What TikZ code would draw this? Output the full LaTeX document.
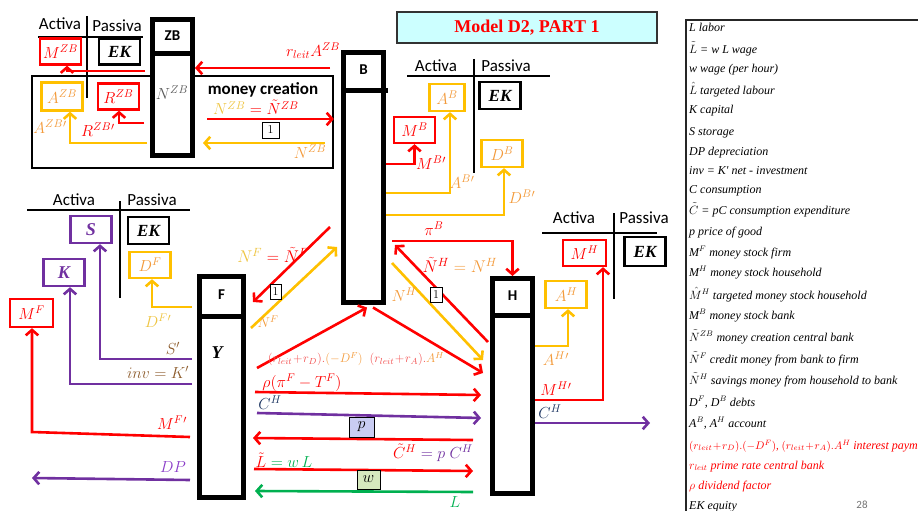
\RequirePackage{fix-cm}
\documentclass[tikz,border=0pt]{standalone}
\usepackage{fontspec}
\usepackage{amsmath}
\usetikzlibrary{arrows.meta,calc}
\newfontfamily\calib{Carlito}
\newfontfamily\tnr{Liberation Serif}
\definecolor{cred}{HTML}{FF0000}
\definecolor{cpink}{HTML}{F25050}
\definecolor{cgold}{HTML}{FFC000}
\definecolor{corange}{HTML}{F39A3A}
\definecolor{cyell}{HTML}{EEC440}
\definecolor{cpurple}{HTML}{7030A0}
\definecolor{cdp}{HTML}{8A3CC8}
\definecolor{cblue}{HTML}{203864}
\definecolor{cbrown}{HTML}{8C5A2A}
\definecolor{cgreen}{HTML}{00B050}
\definecolor{cgray}{HTML}{595959}
\definecolor{ccyan}{HTML}{CCFFFF}
\definecolor{cpbox}{HTML}{C9CCF2}
\definecolor{cwbox}{HTML}{D6E9BE}
\tikzset{
  bar/.style={draw, line width=5pt, inner sep=0pt, fill=white},
  bb/.style={draw, line width=2.3pt, minimum width=41pt, minimum height=26pt, inner sep=0pt, fill=white, font=\fontsize{16}{16}\selectfont},
  arr/.style={line width=2.6pt, -{Straight Barb[length=5.5pt,width=12.5pt]}},
  tl/.style={line width=1.2pt},
  head/.style={font=\calib\bfseries\fontsize{15}{15}\selectfont},
  act/.style={font=\calib\fontsize{17}{17}\selectfont, inner sep=0pt},
  lab/.style={font=\fontsize{16}{16}\selectfont, inner sep=0pt},
  ek/.style={font=\tnr\bfseries\itshape\fontsize{17}{17}\selectfont},
  sk/.style={font=\tnr\bfseries\itshape\fontsize{18}{18}\selectfont},
  one/.style={draw, line width=0.9pt, fill=white, inner sep=0pt, minimum width=12pt, minimum height=15pt, font=\fontsize{12}{12}\selectfont},
  leg/.style={anchor=west, inner sep=0pt, text height=8.5pt, text depth=2.5pt, font=\tnr\itshape\fontsize{12}{12}\selectfont},
}
\begin{document}
\begin{tikzpicture}[x=1pt,y=-1pt]
\useasboundingbox (0,0) rectangle (918,511);
% ---------- title ----------
\node[draw=black!80, line width=1.3pt, fill=ccyan, minimum width=260pt, minimum height=31pt,
      font=\tnr\bfseries\fontsize{18}{18}\selectfont, text=cred] (title) at (527,27.5) {Model D2, PART 1};
% ---------- legend ----------
\begin{scope}
\clip (0,0) rectangle (918,511);
\draw[line width=1.3pt, black!85] (918,20) -- (686,20) -- (686,511);
\node[leg] (g1) at (689,29) {L labor};
\node[leg] (g2) at (689,50) {$\tilde{L}$ = w L wage};
\node[leg] (g3) at (689,69) {w wage (per hour)};
\node[leg] (g4) at (689,91) {$\hat{L}$ targeted labour};
\node[leg] (g5) at (689,110) {K capital};
\node[leg] (g6) at (689,132) {S storage};
\node[leg] (g7) at (689,152) {DP depreciation};
\node[leg] (g8) at (689,171) {inv = K' net - investment};
\node[leg] (g9) at (689,190) {C consumption};
\node[leg] (g10) at (689,211) {$\tilde{C}$ = pC consumption expenditure};
\node[leg] (g11) at (689,232) {p price of good};
\node[leg] (g12) at (689,253) {M$^F$ money stock firm};
\node[leg] (g13) at (689,273) {M$^H$ money stock household};
\node[leg] (g14) at (689,296) {$\hat{M}^H$ targeted money stock household};
\node[leg] (g15) at (689,316) {M$^B$ money stock bank};
\node[leg] (g16) at (689,338) {$\tilde{N}^{ZB}$ money creation central bank};
\node[leg] (g17) at (689,360) {$\tilde{N}^F$ credit money from bank to firm};
\node[leg] (g18) at (689,381) {$\tilde{N}^H$ savings money from household to bank};
\node[leg] (g19) at (689,403) {D$^F$, D$^B$ debts};
\node[leg] (g20) at (689,424) {A$^B$, A$^H$ account};
\node[leg, text=cred] (g21) at (689,446) {\fontsize{11}{11}\selectfont$(r_{leit}\!+\!r_D).(-D^F)$, $(r_{leit}\!+\!r_A).A^H$ \fontsize{12}{12}\selectfont interest payment};
\node[leg, text=cred] (g22) at (689,466) {$r_{leit}$ prime rate central bank};
\node[leg, text=cred] (g23) at (689,486) {$\rho$ dividend factor};
\node[leg] (g24) at (689,506) {EK equity};
\node[font=\calib\fontsize{11}{11}\selectfont, text=black!55] (pg) at (862,505) {28};
\end{scope}
% ---------- money creation box ----------
\node[draw, line width=1.8pt, minimum width=301pt, minimum height=92pt, inner sep=0pt] (mc) at (182.5,122) {};
% ---------- bars ----------
\node[bar, minimum width=40pt, minimum height=135.5pt] (ZB) at (172.5,87.75) {};
\draw[line width=5pt] (ZB.west |- 0,53.5) -- (ZB.east |- 0,53.5);
\node[head] (ZBt) at (172.5,36) {ZB};
\node[bar, minimum width=40pt, minimum height=249.5pt] (B) at (363.5,177.25) {};
\draw[line width=5pt] (B.west |- 0,90.5) -- ([xshift=2pt]B.east |- 0,90.5);
\node[head] (Bt) at (363.5,70) {B};
\node[bar, minimum width=44pt, minimum height=221pt] (F) at (221.5,387) {};
\draw[line width=5pt] (F.west |- 0,316.5) -- (F.east |- 0,316.5);
\node[head] (Ft) at (221.5,295) {F};
\node[bar, minimum width=40pt, minimum height=215pt] (H) at (512.5,386) {};
\draw[line width=5pt] (H.west |- 0,315) -- (H.east |- 0,315);
\node[head] (Ht) at (512.5,296) {H};
% ---------- ZB balance sheet ----------
\draw[tl] (38,37) -- (143,37);
\draw[tl] (87,16) -- (87,98);
\node[act] (aZB) at (60,24) {Activa};
\node[act] (pZB) at (117,26) {Passiva};
\node[bb, draw=cred, text=cred] (MZB) at (60.5,51.5) {$M^{ZB}$};
\node[bb, ek] (EKZB) at (119.5,51.5) {EK};
\node[bb, draw=cgold, text=corange, minimum height=28pt] (AZB) at (62,96.5) {$A^{ZB}$};
\node[bb, draw=cred, text=cred] (RZB) at (118.5,96.5) {$R^{ZB}$};
\coordinate (zs1) at (145,71);
\coordinate (zs2) at (144,123);
\coordinate (zs3) at (147,143);
\draw[arr, cred] (zs1) -| (MZB.south -| 67,0);
\draw[arr, cred] (zs2) -| (RZB.south -| 119,0);
\draw[arr, cgold] (zs3) -| (AZB.south -| 70,0);
\node[lab, text=corange] (lAZB) at (50,127) {$A^{ZB}{}'$};
\node[lab, text=cred] (lRZB) at (98,130) {$R^{ZB}{}'$};
\node[lab, text=cgray] (lNZB) at (172,93) {$N^{ZB}$};
\node[font=\calib\bfseries\fontsize{17}{17}\selectfont, inner sep=0pt] (mctxt) at (263,89.5) {money creation};
\node[lab, text=cred] (eqZB) at (256,107.5) {\textcolor{cyell}{$N^{ZB}$}$\;=\tilde{N}^{ZB}$};
\coordinate (mcs) at (207,119);
\draw[arr, cred] (mcs) -- (mc.east |- 0,119);
\node[one, minimum width=17pt, minimum height=16pt] (one1) at (270.5,130) {1};
\coordinate (mcr) at (325,143);
\coordinate (mcl) at (203,143);
\draw[arr, cgold] (mcr) -- (mcl);
\node[lab, text=corange] (lNZB2) at (310,152) {$N^{ZB}$};
\coordinate (rls) at (330,68);
\draw[arr, cred] (rls) -- (ZB.east |- 0,68);
\node[lab, text=cred] (lrl) at (313,51) {$r_{leit}A^{ZB}$};
% ---------- B balance sheet ----------
\draw[tl] (407,76) -- (550,76);
\draw[tl] (474,59) -- (474,173);
\node[act] (aB) at (436,66) {Activa};
\node[act] (pB) at (506,66) {Passiva};
\node[bb, draw=cgold, text=corange, minimum width=35pt, minimum height=27pt] (AB) at (447,97.5) {$A^B$};
\node[bb, ek, minimum height=27pt] (EKB) at (500,95.5) {EK};
\node[bb, draw=cred, text=cred] (MB) at (414.5,130) {$M^B$};
\node[bb, draw=cgold, text=corange, minimum height=27pt] (DB) at (502,153.5) {$D^B$};
\draw[arr, cred] (B.east |- 0,164) -| (MB.south);
\draw[arr, cgold] (B.east |- 0,193) -| (AB.south -| 450,0);
\draw[arr, cgold] (B.east |- 0,215) -| (DB.south -| 504,0);
\node[lab, text=cred] (lMB) at (431,163) {$M^{B}{}'$};
\node[lab, text=corange] (lAB) at (462,182) {$A^{B}{}'$};
\node[lab, text=corange] (lDB) at (522,197) {$D^{B}{}'$};
\coordinate (pis) at (392,241);
\draw[arr, cred] (pis) -| (H.north);
\node[lab, text=cred] (lpi) at (434,229) {$\pi^B$};
% ---------- F balance sheet ----------
\draw[tl] (27,210) -- (190,210);
\draw[tl] (120,201) -- (120,298);
\node[act] (aF) at (74,200) {Activa};
\node[act] (pF) at (152,200) {Passiva};
\node[bb, draw=cpurple, text=cpurple, sk, minimum height=27pt] (S) at (91,229.5) {S};
\node[bb, ek, minimum height=27pt] (EKF) at (148.5,230.5) {EK};
\node[bb, draw=cpurple, text=cpurple, sk, minimum height=27pt] (K) at (64,272.5) {K};
\node[bb, draw=cgold, text=corange] (DF) at (150,265) {$D^F$};
\node[bb, draw=cred, text=cred, minimum width=43pt, minimum height=28pt] (MF) at (31.5,313) {$M^F$};
\coordinate (fd) at (192,307);
\coordinate (fs) at (192,359);
\coordinate (fk) at (192,384);
\coordinate (fm) at (190,437);
\coordinate (fmc) at (32,432);
\coordinate (fdp) at (190,480);
\coordinate (fdpe) at (32,478);
\draw[arr, cgold] (fd) -| (DF.south -| 152,0);
\draw[arr, cpurple] (fs) -| (S.south -| 100,0);
\draw[arr, cpurple] (fk) -| (K.south -| 70,0);
\draw[arr, cred] (fm) -- (fmc) -- (MF.south -| 32,0);
\draw[arr, cpurple] (fdp) -- (fdpe);
\node[lab, text=cyell] (lDF) at (158,321) {$D^F{}'$};
\node[lab, text=cbrown] (lS) at (173,348) {$S'$};
\node[lab, text=cbrown] (lK) at (158,372) {$inv = K'$};
\node[lab, text=cred] (lMF) at (172,423) {$M^F{}'$};
\node[lab, text=cdp] (lDP) at (173,467) {$DP$};
\node[sk, inner sep=0pt] (Y) at (217,353) {Y};
% ---------- H balance sheet ----------
\draw[tl] (542,233) -- (657,233);
\draw[tl] (614,213) -- (614,299);
\node[act] (aH) at (574,218) {Activa};
\node[act] (pH) at (644,218) {Passiva};
\node[bb, draw=cred, text=cred, minimum width=43pt] (MH) at (584.5,253) {$M^H$};
\node[bb, ek, minimum height=29pt] (EKH) at (645,251.5) {EK};
\node[bb, draw=cgold, text=corange, minimum height=27pt] (AH) at (566,294.5) {$A^H$};
\draw[arr, cgold] (H.east |- 0,346) -| (AH.south -| 568,0);
\draw[arr, cred] (H.east |- 0,400) -| (MH.south -| 603,0);
\coordinate (che) at (650,423);
\draw[arr, cpurple] (H.east |- 0,423) -- (che);
\node[lab, text=corange] (lAH) at (556,359) {$A^H{}'$};
\node[lab, text=cred] (lMH) at (556,389) {$M^H{}'$};
\node[lab, text=cblue] (lCH2) at (550,412) {$C^H$};
% ---------- F / B / H diagonals ----------
\coordinate (d1s) at (330,227);
\coordinate (d1e) at (253,302);
\coordinate (d2s) at (251,328);
\coordinate (d2e) at (337,247);
\coordinate (d3s) at (257,368);
\coordinate (d4e) at (483,373);
\coordinate (d5s) at (392,263);
\coordinate (d5e) at (483,360);
\coordinate (d6s) at (488,342);
\coordinate (d6e) at (395,245);
\draw[arr, cred] (d1s) -- (d1e);
\draw[arr, cgold] (d2s) -- (d2e);
\draw[arr, cred] (d3s) -- ([yshift=-3pt]B.south -| 367,0);
\draw[arr, cred] ([yshift=-3pt]B.south -| 373,0) -- (d4e);
\draw[arr, cgold] (d5s) -- (d5e);
\draw[arr, cred] (d6s) -- (d6e);
\node[lab, text=cred, font=\fontsize{17}{17}\selectfont] (eqF) at (273,255) {\textcolor{cyell}{$N^F$}$\;=\tilde{N}^F$};
\node[one, minimum width=11pt] (one2) at (275.5,291.5) {1};
\node[lab, text=corange, font=\fontsize{14}{14}\selectfont] (lNF) at (268,322) {$N^F$};
\node[lab, text=corange] (lNH) at (404,295) {$N^H$};
\node[lab, text=corange, font=\fontsize{17}{17}\selectfont] (eqH) at (460,265) {\textcolor{cred}{$\tilde{N}^H$}$\;=N^H$};
\node[one] (one3) at (436,295) {1};
% ---------- flows between F and H ----------
\coordinate (h1s) at (255,392);
\coordinate (h1e) at (481,395);
\coordinate (h2s) at (257,413);
\coordinate (h2e) at (481,418);
\coordinate (h3s) at (473,440);
\coordinate (h3e) at (253,438);
\coordinate (h4s) at (254,469);
\coordinate (h4e) at (473,471);
\coordinate (h5s) at (473,492);
\coordinate (h5e) at (255,491);
\draw[arr, cred] (h1s) -- (h1e);
\draw[arr, cpurple] (h2s) -- (h2e);
\draw[arr, cred] (h3s) -- (h3e);
\draw[arr, cred] (h4s) -- (h4e);
\draw[arr, cgreen] (h5s) -- (h5e);
\node[draw, line width=1pt, fill=cpbox, minimum width=25pt, minimum height=20pt, inner sep=0pt, font=\fontsize{16}{16}\selectfont] (pbox) at (361.5,427) {$p$};
\node[draw, line width=1pt, fill=cwbox, minimum width=23pt, minimum height=19pt, inner sep=0pt, font=\fontsize{16}{16}\selectfont] (wbox) at (368.5,479.5) {$w$};
\node[lab, text=cpink, font=\fontsize{12.5}{12.5}\selectfont] (intr) at (356,359) {$(r_{leit}\!+\!r_D).\textcolor{corange}{(-D^F)}\;\;(r_{leit}\!+\!r_A).\textcolor{corange}{A^H}$};
\node[lab, text=cred] (rho) at (302,383) {$\rho(\pi^F-T^F)$};
\node[lab, text=cblue] (lCH) at (270,403) {$C^H$};
\node[lab, text=cred] (lCt) at (433,453) {$\tilde{C}^H$\textcolor{cpurple}{$\;=p\;C^H$}};
\node[lab, text=cred] (lLt) at (284,460) {$\tilde{L}$\textcolor{cgreen}{$\;=w\,L$}};
\node[lab, text=cgreen] (lL) at (455,502) {$L$};
\end{tikzpicture}
\end{document}
